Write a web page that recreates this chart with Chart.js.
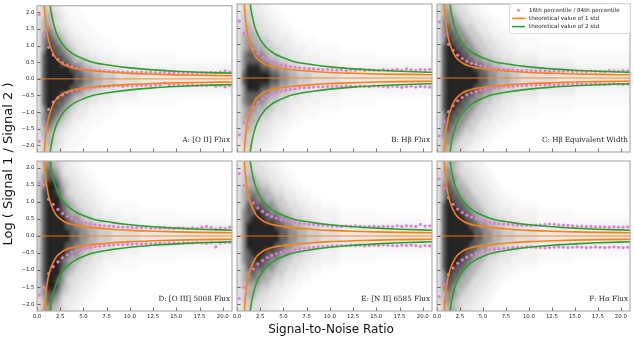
<!DOCTYPE html>
<html><head><meta charset="utf-8">
<script src="https://cdn.jsdelivr.net/npm/chart.js@4.4.1/dist/chart.umd.min.js"></script>
<style>
html,body{margin:0;padding:0;background:#fff;}
#wrap{position:relative;width:634px;height:338px;overflow:hidden;background:#fff;}
#wrap canvas{position:absolute;left:0;top:0;}
.lab{position:absolute;font-family:'DejaVu Sans',sans-serif;color:#111;text-align:center;white-space:nowrap;}
</style></head><body>
<div id="wrap">
<canvas id="cA" width="634" height="338"></canvas>
<canvas id="cB" width="634" height="338"></canvas>
<canvas id="cC" width="634" height="338"></canvas>
<canvas id="cD" width="634" height="338"></canvas>
<canvas id="cE" width="634" height="338"></canvas>
<canvas id="cF" width="634" height="338"></canvas>
<div class="lab" id="ylab" style="left:-92px;top:157px;width:200px;height:14px;line-height:14px;font-size:13px;transform:rotate(-90deg);">Log ( Signal 1 / Signal 2 )</div>
<div class="lab" id="xlab" style="left:231px;top:322px;width:200px;height:14px;line-height:14px;font-size:12px;">Signal-to-Noise Ratio</div>
</div>
<script>
// ---------------- DATA ----------------
const xTicks = [0, 2.5, 5, 7.5, 10, 12.5, 15, 17.5, 20];
const yTicks = [-2, -1.5, -1, -0.5, 0, 0.5, 1, 1.5, 2];
const panelNames = ['A: [O II] Flux', 'B: H\u03b2 Flux', 'C: H\u03b2 Equivalent Width',
                    'D: [O III] 5008 Flux', 'E: [N II] 6585 Flux', 'F: H\u03b1 Flux'];
const legendLabels = ['16th percentile / 84th percentile', 'theoretical value of 1 std', 'theoretical value of 2 std'];

// percentile bins (signal-to-noise bin centres)
const pctX = [0.25,0.75,1.25,1.75,2.25,2.75,3.25,3.75,4.25,4.75,5.25,5.75,6.25,6.75,7.25,7.75,8.25,8.75,9.25,9.75,
              10.25,10.75,11.25,11.75,12.25,12.75,13.25,13.75,14.25,14.75,15.25,15.75,16.25,16.75,17.25,17.75,18.25,18.75,19.25,19.75,20.25,20.75];

const p84A = [1.93,1.30,0.95,0.72,0.58,0.48,0.42,0.37,0.33,0.30,0.28,0.26,0.25,0.24,0.23,0.22,0.21,0.21,0.20,0.20,0.20,0.19,0.20,0.19,0.20,0.19,0.19,0.20,0.18,0.19,0.20,0.18,0.19,0.18,0.17,0.18,0.17,0.19,0.18,0.20,0.24,0.20];
const p16A = [-1.88,-1.30,-0.92,-0.70,-0.57,-0.48,-0.41,-0.37,-0.33,-0.30,-0.28,-0.26,-0.25,-0.24,-0.23,-0.22,-0.21,-0.21,-0.22,-0.20,-0.21,-0.20,-0.20,-0.19,-0.20,-0.18,-0.19,-0.13,-0.19,-0.18,-0.19,-0.20,-0.19,-0.18,-0.20,-0.19,-0.20,-0.18,-0.22,-0.20,-0.24,-0.20];
const p84B = [1.69,1.32,1.05,0.86,0.72,0.62,0.54,0.48,0.43,0.39,0.36,0.34,0.32,0.30,0.29,0.28,0.27,0.26,0.25,0.25,0.24,0.23,0.24,0.22,0.24,0.23,0.25,0.22,0.24,0.23,0.22,0.25,0.23,0.24,0.26,0.22,0.27,0.24,0.22,0.25,0.24,0.26];
const p16B = [-1.69,-1.32,-1.05,-0.86,-0.72,-0.62,-0.54,-0.48,-0.43,-0.39,-0.36,-0.34,-0.32,-0.30,-0.29,-0.28,-0.27,-0.26,-0.26,-0.25,-0.25,-0.24,-0.25,-0.23,-0.24,-0.25,-0.23,-0.24,-0.26,-0.23,-0.24,-0.25,-0.27,-0.24,-0.25,-0.28,-0.26,-0.24,-0.27,-0.25,-0.26,-0.27];
const p84C = [1.67,1.28,1.00,0.82,0.68,0.58,0.50,0.44,0.40,0.36,0.33,0.31,0.29,0.27,0.26,0.25,0.24,0.23,0.23,0.22,0.22,0.21,0.22,0.21,0.20,0.21,0.20,0.20,0.21,0.19,0.20,0.20,0.19,0.21,0.20,0.20,0.19,0.22,0.21,0.20,0.22,0.21];
const p16C = [-1.72,-1.30,-1.00,-0.82,-0.68,-0.58,-0.50,-0.44,-0.40,-0.36,-0.33,-0.31,-0.29,-0.27,-0.26,-0.25,-0.24,-0.23,-0.22,-0.22,-0.21,-0.21,-0.20,-0.20,-0.19,-0.20,-0.19,-0.19,-0.18,-0.19,-0.17,-0.18,-0.19,-0.18,-0.17,-0.18,-0.19,-0.18,-0.17,-0.18,-0.19,-0.18];
const p84D = [1.56,1.50,1.08,0.93,0.78,0.66,0.57,0.50,0.45,0.41,0.38,0.35,0.33,0.31,0.30,0.29,0.28,0.27,0.26,0.26,0.25,0.25,0.24,0.25,0.23,0.24,0.23,0.24,0.23,0.22,0.24,0.23,0.22,0.24,0.22,0.26,0.28,0.25,0.20,0.24,0.22,0.26];
const p16D = [-1.73,-1.52,-1.10,-0.90,-0.76,-0.64,-0.55,-0.48,-0.43,-0.39,-0.36,-0.33,-0.31,-0.29,-0.28,-0.27,-0.26,-0.25,-0.25,-0.24,-0.24,-0.23,-0.23,-0.22,-0.23,-0.22,-0.21,-0.22,-0.21,-0.20,-0.21,-0.20,-0.20,-0.21,-0.19,-0.20,-0.21,-0.19,-0.32,-0.20,-0.19,-0.18];
const p84E = [1.83,1.48,1.20,0.97,0.82,0.72,0.63,0.57,0.52,0.48,0.45,0.42,0.40,0.38,0.36,0.34,0.33,0.32,0.31,0.30,0.29,0.29,0.28,0.29,0.28,0.30,0.28,0.27,0.28,0.29,0.27,0.28,0.28,0.27,0.30,0.28,0.30,0.29,0.28,0.34,0.29,0.30];
const p16E = [-1.83,-1.50,-1.20,-0.97,-0.82,-0.72,-0.63,-0.57,-0.52,-0.48,-0.45,-0.42,-0.40,-0.38,-0.36,-0.34,-0.33,-0.32,-0.31,-0.30,-0.29,-0.29,-0.28,-0.28,-0.27,-0.28,-0.27,-0.29,-0.28,-0.27,-0.28,-0.26,-0.27,-0.28,-0.29,-0.27,-0.28,-0.27,-0.28,-0.30,-0.28,-0.29];
const p84F = [1.68,1.40,1.12,0.93,0.79,0.69,0.61,0.55,0.50,0.46,0.43,0.40,0.38,0.36,0.35,0.34,0.33,0.32,0.31,0.31,0.31,0.32,0.33,0.34,0.35,0.34,0.33,0.32,0.31,0.30,0.29,0.29,0.28,0.28,0.27,0.27,0.27,0.26,0.27,0.26,0.26,0.27];
const p16F = [-1.78,-1.42,-1.13,-0.94,-0.80,-0.70,-0.62,-0.56,-0.51,-0.47,-0.44,-0.41,-0.39,-0.37,-0.36,-0.35,-0.34,-0.33,-0.33,-0.32,-0.32,-0.33,-0.34,-0.35,-0.34,-0.33,-0.32,-0.33,-0.34,-0.33,-0.32,-0.33,-0.34,-0.33,-0.32,-0.33,-0.34,-0.33,-0.32,-0.33,-0.34,-0.33];

// theoretical curves
const std1X     = [0.75,0.8,0.9,1.0,1.2,1.5,2.0,2.5,3.0,4.0,5.0,6.0,8.0,10,12.5,15,17.5,21];
const std1Upper = [2.5,2.15,1.8,1.55,1.22,0.93,0.64,0.5,0.41,0.32,0.28,0.245,0.2,0.165,0.14,0.12,0.107,0.095];
const std1Lower = [-2.5,-2.15,-1.8,-1.55,-1.22,-0.93,-0.64,-0.5,-0.41,-0.32,-0.28,-0.245,-0.2,-0.165,-0.14,-0.12,-0.107,-0.095];
const std2X     = [1.35,1.4,1.5,1.75,2.0,2.5,3.0,3.5,4.0,5.0,6.0,8.0,10,12.5,15,17.5,21];
const std2Upper = [2.5,2.3,2.05,1.7,1.45,1.15,0.96,0.83,0.73,0.6,0.5,0.4,0.33,0.27,0.23,0.2,0.17];
const std2Lower = [-2.5,-2.3,-2.05,-1.7,-1.45,-1.15,-0.96,-0.83,-0.73,-0.6,-0.5,-0.4,-0.33,-0.27,-0.23,-0.2,-0.17];
const zeroX = [0, 21];
const zeroY = [0, 0];

// density maps: 22 rows (y from 2.2 down to -2.2, 0.2 per row), 42 columns (x 0..21, 0.5 per column)
// digit = darkness level 0..9; missing trailing columns are 0
const densA = ["355432111","3565432111","46654322111","467654322111","47876543221111","4788765433221111","479887654332221111",
 "489988765443322221111111111111","4899988766544333222222"+"11111111111111111111","4899999887665544433333"+"22222222222222222222",
 "4899999988776655544444"+"33333333333333333333","4899999988776655544444"+"33333333333333333333",
 "4899999887665544433333"+"22222222222222222222","4899988766544333222222"+"11111111111111111111","489988765443322221111111111111",
 "479887654332221111","4788765433221111","47876543221111","467654322111","46654322111","3565432111","355432111"];
const densB = ["344332211","3554332211","45544332211","456544332211","46665443322211","46766554333221111","4677665544332221111111",
 "478877655443332222111111111111","4788877665544333222222"+"11111111111111111111","4799988776655444333333"+"22222222222222222222",
 "4899999887766555444444"+"33333333333333333333","4899999887766555444444"+"33333333333333333333",
 "4799988776655444333333"+"22222222222222222222","4788877665544333222222"+"11111111111111111111","478877655443332222111111111111",
 "4677665544332221111111","46766554333221111","46665443322211","456544332211","45544332211","3554332211","344332211"];
const densC = ["46654432211","467654432211","47776544332211","4787765543322111","478877655433222111","4798877655443322211111",
 "489988776554433222111111111111","4899988776554433322222"+"11111111111111111111","4899998877665544333333"+"22222222"+"111111111111",
 "4899999988776655544444"+"33333333"+"222222222222","4899999998877666554444"+"44443333"+"333333333333",
 "4899999998877666554444"+"44443333"+"333333333333","4899999988776655544444"+"33333333"+"222222222222",
 "4899998877665544333333"+"22222222"+"111111111111","4899988776554433322222"+"11111111111111111111",
 "489988776554433222111111111111","4798877655443322211111","478877655433222111","4787765543322111","47776544332211","467654432211","46654432211"];
const densD = ["46765432211","468764332211","5788754332211","57998654332211","589987544332211","5899976544332211","5899987654433221111111",
 "589998766544332222111111111111","5899998776554433322222"+"11111111111111111111","5899998877665544433333"+"22222222222222222222",
 "5899999887766555444444"+"33333333333333333333","5899999887766555444444"+"33333333333333333333",
 "5899998877665544433333"+"22222222222222222222","5899998776554433322222"+"11111111111111111111","589998766544332222111111111111",
 "5899987654433221111111","5899976544332211","589987544332211","57998654332211","5788754332211","468764332211","46765432211"];
const densE = ["34544332211","355544332211","4566544332211","45666554332211","4677766544332211","467877665543322211","4688887765544332221111",
 "478898877655443322222211111111","4789998887765544332222"+"11111111111111111111","4799999988776655443333"+"22222222222222222222",
 "4799999998877665554444"+"33333333333333333333","4799999998877665554444"+"33333333333333333333",
 "4799999988776655443333"+"22222222222222222222","4789998887765544332222"+"11111111111111111111","478898877655443322222211111111",
 "4688887765544332221111","467877665543322211","4677766544332211","45666554332211","4566544332211","355544332211","34544332211"];
const densF = ["35665433221","467654433221","4677654433221","47876654433221","4788766544332211","479887665443322111","4899887665443322211111",
 "489998876654433322222211111111","4899998876655443332222"+"11111111111111111111","4899999887766554443333"+"22222222222222222222",
 "4899999988776655544444"+"33333333333333333333","4899999988776655544444"+"33333333333333333333",
 "4899999887766554443333"+"22222222222222222222","4899998876655443332222"+"11111111111111111111","489998876654433322222211111111",
 "4899887665443322211111","479887665443322111","4788766544332211","47876654433221","4677654433221","467654433221","35665433221"];

// ---------------- STYLE / LAYOUT ----------------
const ORANGE = '#ff7f0e', GREEN = '#2ca02c', PINK = 'rgba(226,122,214,0.95)';
const LEVEL_ALPHA = [0, 0.025, 0.05, 0.085, 0.13, 0.2, 0.3, 0.44, 0.63, 0.85];
const DENS_COLS = 42, DENS_ROWS = 22, X_MIN = 0, X_MAX = 21, Y_MIN = -2.2, Y_MAX = 2.2;
const Y_AXIS_W = 30, X_AXIS_H = 12;
const panels = [
  {id:'cA', l:37, r:232, t:2, b:152, showX:false, showY:true,  name:0, p84:p84A, p16:p16A, dens:densA},
  {id:'cB', l:237, r:432, t:2, b:152, showX:false, showY:false, name:1, p84:p84B, p16:p16B, dens:densB},
  {id:'cC', l:437, r:632, t:2, b:152, showX:false, showY:false, name:2, p84:p84C, p16:p16C, dens:densC, legend:true},
  {id:'cD', l:37, r:232, t:161, b:311, showX:true, showY:true,  name:3, p84:p84D, p16:p16D, dens:densD},
  {id:'cE', l:237, r:432, t:161, b:311, showX:true, showY:false, name:4, p84:p84E, p16:p16E, dens:densE},
  {id:'cF', l:437, r:632, t:161, b:311, showX:true, showY:false, name:5, p84:p84F, p16:p16F, dens:densF}
];

function pts(xs, ys){ return xs.map((x,i)=>({x:x, y:ys[i]})); }
function fmt(v){ return (v < 0 ? '\u2212' : '') + Math.abs(v).toFixed(1); }

function densityImage(rows){
  const off = document.createElement('canvas');
  off.width = DENS_COLS; off.height = DENS_ROWS;
  const c = off.getContext('2d');
  const img = c.createImageData(DENS_COLS, DENS_ROWS);
  for (let r=0;r<DENS_ROWS;r++){
    const s = rows[r] || '';
    for (let k=0;k<DENS_COLS;k++){
      const lv = k < s.length ? +s[k] : 0;
      const o = (r*DENS_COLS+k)*4;
      img.data[o]=0; img.data[o+1]=0; img.data[o+2]=0;
      img.data[o+3]=Math.round(LEVEL_ALPHA[lv]*255);
    }
  }
  c.putImageData(img,0,0);
  return off;
}

const densityPlugin = {
  id:'density',
  beforeDatasetsDraw(chart){
    const p = chart.$panel; if(!p) return;
    if(!chart.$densImg) chart.$densImg = densityImage(p.dens);
    const xs = chart.scales.x, ys = chart.scales.y, ca = chart.chartArea, ctx = chart.ctx;
    const x0 = xs.getPixelForValue(X_MIN), x1 = xs.getPixelForValue(X_MAX);
    const y0 = ys.getPixelForValue(Y_MAX), y1 = ys.getPixelForValue(Y_MIN);
    ctx.save();
    ctx.beginPath(); ctx.rect(ca.left, ca.top, ca.right-ca.left, ca.bottom-ca.top); ctx.clip();
    ctx.imageSmoothingEnabled = true; ctx.imageSmoothingQuality = 'high';
    ctx.drawImage(chart.$densImg, x0, y0, x1-x0, y1-y0);
    ctx.restore();
  }
};

const framePlugin = {
  id:'frame',
  afterDatasetsDraw(chart){
    const p = chart.$panel; if(!p) return;
    const ctx = chart.ctx, ca = chart.chartArea, xs = chart.scales.x, ys = chart.scales.y;
    ctx.save();
    ctx.font = '7.2px "DejaVu Serif"';
    ctx.fillStyle = '#222'; ctx.textAlign = 'right'; ctx.textBaseline = 'middle';
    ctx.fillText(panelNames[p.name], ca.right - 2, ca.bottom - 12);
    ctx.strokeStyle = '#444'; ctx.lineWidth = 0.8;
    ctx.beginPath();
    xs.ticks.forEach(t=>{ const px = Math.round(xs.getPixelForValue(t.value))+0.5; ctx.moveTo(px, ca.bottom); ctx.lineTo(px, ca.bottom-3.5); });
    ys.ticks.forEach(t=>{ const py = Math.round(ys.getPixelForValue(t.value))+0.5; ctx.moveTo(ca.left, py); ctx.lineTo(ca.left+3.5, py); });
    ctx.stroke();
    ctx.strokeStyle = '#a8a8a8'; ctx.lineWidth = 1.1;
    ctx.strokeRect(ca.left, ca.top, ca.right-ca.left, ca.bottom-ca.top);
    if (p.legend){
      const lx = 509.5, ly = 3.5, lw = 121, lh = 30;
      ctx.fillStyle = 'rgba(255,255,255,0.85)'; ctx.strokeStyle = '#d0d0d0'; ctx.lineWidth = 0.8;
      ctx.beginPath(); ctx.roundRect(lx, ly, lw, lh, 2); ctx.fill(); ctx.stroke();
      const rows = [10.2, 18.4, 26.6];
      ctx.fillStyle = PINK; ctx.beginPath(); ctx.arc(518.5, rows[0], 1.5, 0, Math.PI*2); ctx.fill();
      ctx.lineWidth = 1.6;
      ctx.strokeStyle = ORANGE; ctx.beginPath(); ctx.moveTo(512, rows[1]); ctx.lineTo(525, rows[1]); ctx.stroke();
      ctx.strokeStyle = GREEN; ctx.beginPath(); ctx.moveTo(512, rows[2]); ctx.lineTo(525, rows[2]); ctx.stroke();
      ctx.fillStyle = '#222'; ctx.font = '5.6px "DejaVu Sans"'; ctx.textAlign = 'left'; ctx.textBaseline = 'middle';
      legendLabels.forEach((s,i)=>ctx.fillText(s, 529, rows[i]));
    }
    ctx.restore();
  }
};

function lineDs(xs, ys, color, width, order){
  return {type:'line', data:pts(xs, ys), borderColor:color, borderWidth:width, pointRadius:0,
          cubicInterpolationMode:'monotone', fill:false, order:order, clip:0};
}
function dotDs(xs, ys, order){
  return {type:'scatter', data:pts(xs, ys), backgroundColor:PINK, borderWidth:0, pointRadius:1.6,
          showLine:false, order:order, clip:0};
}

panels.forEach(p=>{
  const canvas = document.getElementById(p.id);
  new Chart(canvas, {
    type:'scatter',
    data:{datasets:[
      lineDs(std2X, std2Upper, GREEN, 1.6, 0),
      lineDs(std2X, std2Lower, GREEN, 1.6, 0),
      lineDs(std1X, std1Upper, ORANGE, 1.6, 1),
      lineDs(std1X, std1Lower, ORANGE, 1.6, 1),
      lineDs(zeroX, zeroY, ORANGE, 0.9, 2),
      dotDs(pctX, p.p84, 3),
      dotDs(pctX, p.p16, 3)
    ]},
    options:{
      responsive:false, animation:false, devicePixelRatio:1,
      layout:{padding:{left:p.l - Y_AXIS_W, top:p.t, right:634-p.r, bottom:338-p.b-X_AXIS_H}},
      plugins:{legend:{display:false}, tooltip:{enabled:false}, title:{display:false}},
      scales:{
        x:{type:'linear', min:X_MIN, max:X_MAX,
           afterFit(s){ s.height = X_AXIS_H; },
           afterBuildTicks(s){ s.ticks = xTicks.map(v=>({value:v})); },
           grid:{display:false, drawTicks:false, tickLength:0}, border:{display:false},
           ticks:{display:p.showX, autoSkip:false, maxRotation:0, minRotation:0, padding:2.5, color:'#222',
                  font:{family:'DejaVu Sans', size:5.4}, callback:(v)=>fmt(v)}},
        y:{type:'linear', min:Y_MIN, max:Y_MAX,
           afterFit(s){ s.width = Y_AXIS_W; },
           afterBuildTicks(s){ s.ticks = yTicks.map(v=>({value:v})); },
           grid:{display:false, drawTicks:false, tickLength:0}, border:{display:false},
           ticks:{display:p.showY, autoSkip:false, padding:2.5, color:'#222',
                  font:{family:'DejaVu Sans', size:5.4}, callback:(v)=>fmt(v)}}
      }
    },
    plugins:[{id:'panelref', beforeInit(c){ c.$panel = p; }}, densityPlugin, framePlugin]
  });
});
</script>
</body></html>
